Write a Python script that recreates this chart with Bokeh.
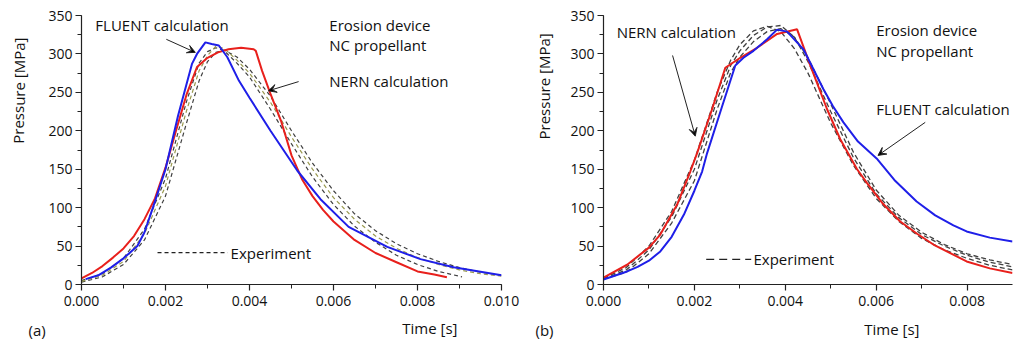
from bokeh.plotting import figure
from bokeh.layouts import row, column
from bokeh.models import (Range1d, SingleIntervalTicker, NumeralTickFormatter,
                          Label, Arrow, VeeHead)
from bokeh.embed import file_html
from bokeh.resources import INLINE

FONT = "Open Sans"

# ---------------- Panel (a) data (time in ms, pressure in MPa) ----------------
a_nern_t = [0, 0.25, 0.5, 0.75, 1.0, 1.25, 1.5, 1.75, 2.0, 2.25, 2.5, 2.75, 3.0, 3.25, 3.5, 3.8, 4.1, 4.15,
            4.3, 4.5, 4.75, 5.0, 5.25, 5.5, 5.75, 6.0, 6.5, 7.0, 7.5, 8.0, 8.4, 8.7]
a_nern_p = [8, 15, 24, 35, 47, 63, 85, 112, 152, 200, 247, 283, 295, 302, 306, 308, 306, 304,
            278, 248, 213, 168, 137, 115, 97, 82, 58, 41, 29, 17, 13, 9.5]

a_fluent_t = [0.1, 0.4, 0.7, 1.0, 1.33, 1.5, 1.7, 2.0, 2.3, 2.63, 2.75, 2.95, 3.1, 3.27, 3.47, 3.75, 4.0,
              4.5, 5.14, 5.69, 6.36, 7.28, 8.07, 8.86, 10.0]
a_fluent_p = [7, 12, 22, 34, 50, 68, 100, 150, 220, 287, 300, 315, 313, 311, 296, 265, 243,
              200, 148, 111, 75, 49, 33, 22.5, 12]

a_exp_t = [0, 0.5, 1.0, 1.5, 2.0, 2.5, 2.8, 3.0, 3.2, 3.4, 3.7, 4.0, 4.5, 5.0, 5.5, 6.0, 6.5, 7.0,
           7.5, 8.0, 8.5, 9.0, 9.5, 10.0]
a_exp1_p = [3, 10, 26, 58, 115, 210, 265, 290, 302, 305, 296, 280, 245, 200, 158, 122, 92, 70,
            53, 40, 30, 22, 16, 12]
a_exp2_t = [0, 0.5, 1.0, 1.5, 2.0, 2.5, 2.8, 3.0, 3.2, 3.4, 3.7, 4.0, 4.5, 5.0, 5.5, 6.0, 6.5, 7.0,
            7.5, 8.0, 8.5, 9.06]
a_exp2_p = [5, 14, 34, 72, 138, 238, 288, 303, 308, 304, 288, 270, 228, 183, 140, 104, 76, 55,
            38, 26, 17, 10]
a_exp3_p = [4, 12, 30, 66, 128, 226, 278, 298, 310, 307, 292, 275, 237, 192, 150, 113, 85, 63,
            47, 35, 26, 19, 14, 11]

# ---------------- Panel (b) data ----------------
b_nern_t = [0, 0.52, 1.0, 1.25, 1.62, 1.91, 2.06, 2.4, 2.68, 3.01, 3.38, 3.82, 4.26, 4.55, 4.92, 5.21,
            5.58, 5.80, 6.15, 6.53, 6.9, 7.26, 7.99, 8.5, 9.0]
b_nern_p = [9, 25.7, 48, 65, 104, 147, 171, 230, 282, 295, 308, 326, 332, 285, 228, 189,
            150, 132, 105, 82, 66, 52, 30, 21, 15]

b_fluent_t = [0, 0.52, 0.75, 1.0, 1.25, 1.5, 1.77, 2.0, 2.17, 2.28, 2.6, 2.90, 3.08, 3.30, 3.60, 3.82,
              4.04, 4.40, 4.84, 5.05, 5.28, 5.6, 6.01, 6.4, 6.89, 7.3, 7.7, 7.99, 8.5, 9.0]
b_fluent_p = [6.5, 17, 23, 31, 43, 62, 91, 122, 147, 171, 230, 285, 295, 304, 319, 331.6,
              329, 306, 254, 232, 211, 186, 164, 136, 108, 90, 77, 69, 61, 56]

b_exp_t = [0, 0.5, 1.0, 1.5, 2.0, 2.5, 2.8, 3.0, 3.3, 3.6, 3.9, 4.2, 4.5, 5.0, 5.5, 6.0, 6.5, 7.0,
           7.5, 8.0, 8.5, 9.0]
b_exp1_p = [8, 22, 50, 95, 162, 250, 292, 312, 330, 336, 329, 307, 275, 210, 155, 112, 82, 60,
            45, 34, 25, 19]
b_exp2_p = [7, 19, 45, 88, 150, 240, 285, 304, 324, 335, 337, 322, 290, 225, 165, 118, 87, 65,
            50, 38, 29, 23]
b_exp3_p = [7, 16, 40, 80, 135, 228, 276, 296, 316, 329, 333, 322, 295, 235, 172, 123, 90, 68,
            52, 40, 32, 26]

y_tick_interval = 50
x_tick_interval = 0.002

BLUE = "#1f1fe8"
RED = "#e8201c"
GRAY = "#404040"
OLIVE = "#9a9a50"
TXT = "#111111"

MAIN_H = 315
STRIP_H = 24


def ms(t):
    return [v / 1000.0 for v in t]


def make_fig(width, border_left, border_right, xmax):
    p = figure(width=width, height=MAIN_H, output_backend="svg", toolbar_location=None,
               x_range=Range1d(0, xmax), y_range=Range1d(0, 350),
               min_border_left=border_left, min_border_right=border_right,
               min_border_top=15, min_border_bottom=31)
    p.outline_line_color = None
    p.grid.visible = False
    p.background_fill_color = "white"
    p.border_fill_color = "white"
    p.xaxis.ticker = SingleIntervalTicker(interval=x_tick_interval, num_minor_ticks=2)
    p.yaxis.ticker = SingleIntervalTicker(interval=y_tick_interval, num_minor_ticks=2)
    p.xaxis.formatter = NumeralTickFormatter(format="0.000")
    for ax in (p.xaxis[0], p.yaxis[0]):
        ax.axis_line_color = "#222222"
        ax.axis_line_width = 1.2
        ax.major_tick_line_color = "#222222"
        ax.minor_tick_line_color = "#222222"
        ax.major_tick_line_width = 1.2
        ax.minor_tick_line_width = 1
        ax.major_tick_in = 0
        ax.major_tick_out = 6
        ax.minor_tick_in = 0
        ax.minor_tick_out = 4
        ax.major_label_text_font = FONT
        ax.major_label_text_font_size = "14px"
        ax.major_label_text_color = TXT
    p.xaxis.major_label_standoff = 5
    p.yaxis.major_label_standoff = 3
    return p


def make_strip(width, height):
    s = figure(width=width, height=height, output_backend="svg", toolbar_location=None,
               x_range=Range1d(0, width), y_range=Range1d(0, height),
               x_axis_location=None, y_axis_location=None,
               min_border_left=0, min_border_right=0, min_border_top=0, min_border_bottom=0)
    s.outline_line_color = None
    s.grid.visible = False
    s.background_fill_color = "white"
    s.border_fill_color = "white"
    return s


def label(p, x, y, text, align="left", angle=0):
    p.add_layout(Label(x=x, y=y, text=text, text_font=FONT, text_font_size="15px",
                       text_color=TXT, text_align=align, text_baseline="middle",
                       angle=angle))


def arrow(p, x0, y0, x1, y1):
    p.add_layout(Arrow(x_start=x0, y_start=y0, x_end=x1, y_end=y1, line_color="#222222",
                       line_width=1,
                       end=VeeHead(size=8, line_color="#222222", line_width=1)))


def dash_sample(p, x0, x1, y, dash):
    p.add_layout(Arrow(x_start=x0, y_start=y, x_end=x1, y_end=y, end=None,
                       line_color="#222222", line_width=1.2, line_dash=dash))


# ---------------- Panel (a) ----------------
pa = make_fig(490, 51, 19, 0.010)
pa.line(ms(a_exp_t), a_exp1_p, line_color=GRAY, line_width=1.2, line_dash="4 3")
pa.line(ms(a_exp2_t), a_exp2_p, line_color=GRAY, line_width=1.2, line_dash="4 3")
pa.line(ms(a_exp_t), a_exp3_p, line_color=OLIVE, line_width=1.2, line_dash="4 3")
pa.line(ms(a_nern_t), a_nern_p, line_color=RED, line_width=2)
pa.line(ms(a_fluent_t), a_fluent_p, line_color=BLUE, line_width=2)

label(pa, 0.00033, 337, "FLUENT calculation")
arrow(pa, 0.00202, 319, 0.00271, 302)
label(pa, 0.0059, 337, "Erosion device")
label(pa, 0.0059, 311, "NC propellant")
label(pa, 0.0059, 265, "NERN calculation")
arrow(pa, 0.00517, 264, 0.00445, 252)
dash_sample(pa, 0.00181, 0.00348, 41.6, "4 3")
label(pa, 0.00355, 41.6, "Experiment")

# ---------------- Panel (b) ----------------
pb = make_fig(460, 48, 3, 0.009)
pb.line(ms(b_exp_t), b_exp1_p, line_color=GRAY, line_width=1.3, line_dash="5 3")
pb.line(ms(b_exp_t), b_exp2_p, line_color=GRAY, line_width=1.3, line_dash="5 3")
pb.line(ms(b_exp_t), b_exp3_p, line_color=GRAY, line_width=1.3, line_dash="5 3")
pb.line(ms(b_nern_t), b_nern_p, line_color=RED, line_width=2)
pb.line(ms(b_fluent_t), b_fluent_p, line_color=BLUE, line_width=2)

label(pb, 0.00029, 328, "NERN calculation")
arrow(pb, 0.00152, 298, 0.00202, 193)
label(pb, 0.0060, 331.6, "Erosion device")
label(pb, 0.0060, 304, "NC propellant")
label(pb, 0.0060, 228.5, "FLUENT calculation")
arrow(pb, 0.00708, 211, 0.00604, 168)
dash_sample(pb, 0.00226, 0.00325, 32.6, "8 5")
label(pb, 0.00330, 32.6, "Experiment")

# ---------------- Side strips for axis titles and panel tags ----------------
sa = make_strip(30, MAIN_H)
label(sa, 18, MAIN_H - 88, "Pressure [MPa]", align="center", angle=1.5707963)
sb = make_strip(35, MAIN_H)
label(sb, 23, MAIN_H - 83, "Pressure [MPa]", align="center", angle=1.5707963)

bottom = make_strip(1015, STRIP_H)
label(bottom, 457, STRIP_H - 12, "Time [s]", align="right")
label(bottom, 28, STRIP_H - 14, "(a)")
label(bottom, 919, STRIP_H - 13, "Time [s]", align="right")
label(bottom, 535, STRIP_H - 14, "(b)")

layout = column(row(sa, pa, sb, pb, spacing=0), bottom, spacing=0)
open("out.html", "w").write(file_html(layout, INLINE))
